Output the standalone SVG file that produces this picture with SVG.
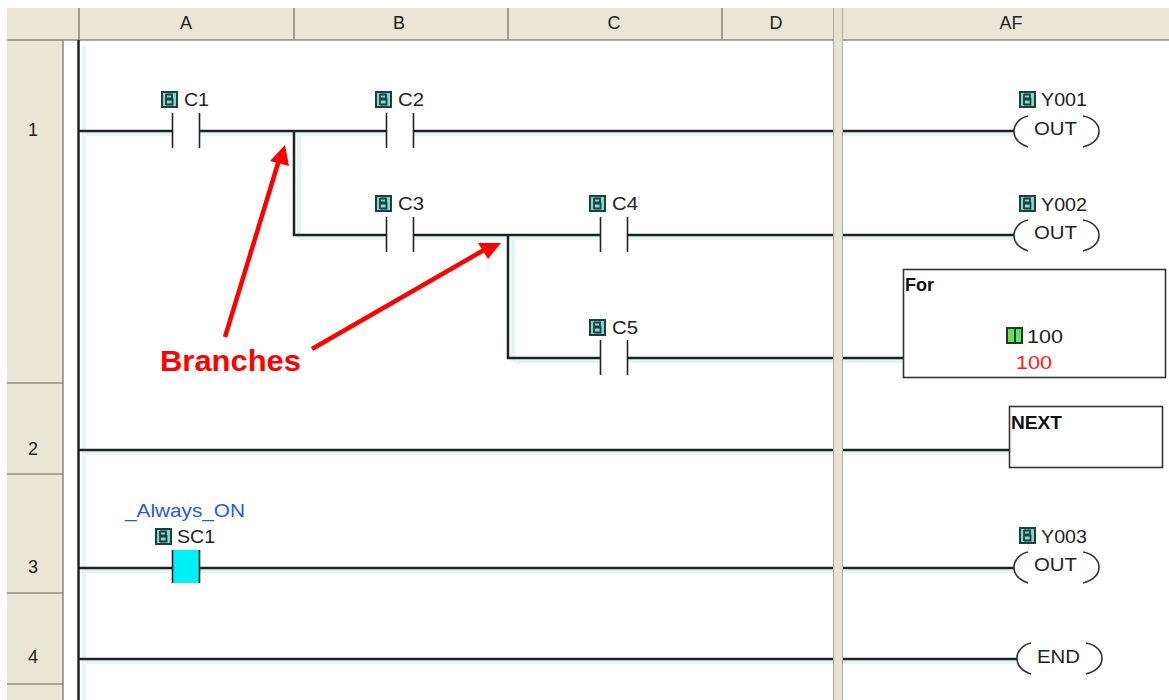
<svg xmlns="http://www.w3.org/2000/svg" width="1169" height="700" viewBox="0 0 1169 700">
<style>
text{font-family:"Liberation Sans",Arial,sans-serif;font-size:18px;fill:#222}
.hd{text-anchor:middle}
.sep{stroke:#8f8d80;stroke-width:1.600;fill:none}
.split{stroke:#b5b2a3;stroke-width:1.200;fill:none}
.w{stroke:#222;stroke-width:2.500;fill:none}
.sh{stroke:#e3f6f7;stroke-width:4;fill:none}
.c{stroke:#222;stroke-width:1.600;fill:none}
.box{fill:#fff;stroke:#333;stroke-width:1.600}
.b{font-weight:700;fill:#111}
.arc{stroke:#333;stroke-width:1.600;fill:none}
.ar{stroke:#ff0000;stroke-width:4.500;fill:none}
.arh{fill:#ff0000}
</style>
<defs>
<g id="bit"><rect x="0" y="0" width="17" height="17" fill="#1f3f3f"/><rect x="2" y="2" width="13" height="13" fill="#7fd8cc"/><path d="M5 3v11M5 3.500h6v4h-6M5 8.500h6.500v5h-6.500" stroke="#1f3f3f" stroke-width="1.800" fill="none"/></g>
<g id="contact"><path class="c" d="M0-18V17M27-18V17"/></g>
<g id="coil"><path class="arc" d="M14-15C5-13 0-6 0 0C0 7 5 13 14 16M69-15C80-13 85-6 85 0C85 7 80 13 69 16"/></g>
</defs>
<rect width="1169" height="700" fill="#fff"/>
<g id="grid">
<rect x="7" y="8" width="1162" height="32" fill="#e9e6d6"/>
<rect x="7" y="40" width="56" height="660" fill="#e9e6d6"/>
<path class="sep" d="M7 40H1169M79 8V40M294 8V40M508 8V40M722 8V40M63 40V700M7 383H63M7 474H63M7 593H63M7 684H63"/>
<rect x="833" y="8" width="10" height="692" fill="#e6e3d3"/>
<path class="split" d="M833.500 8V700M842.500 8V700"/>
<text class="hd" x="186" y="29">A</text><text class="hd" x="399" y="29">B</text><text class="hd" x="614" y="29">C</text><text class="hd" x="776" y="29">D</text><text class="hd" x="1011" y="29">AF</text>
<text class="hd" x="33" y="136">1</text><text class="hd" x="33" y="455">2</text><text class="hd" x="33" y="573">3</text><text class="hd" x="33" y="663">4</text>
</g>
<g id="connectors">
<path class="sh" d="M84 46V700M84 134H172M200 134H386M414 134H833M843 134H1014M299 134V238M299 238H386M414 238H600M628 238H833M843 238H1014M513 238V361M513 361H600M628 361H833M843 361H904M84 453H833M843 453H1010M84 571H172M200 571H833M843 571H1014M84 662H833M843 662H1017"/>
<path class="w" d="M78.500 40V700"/>
<path class="w" d="M79 131H172M200 131H386M414 131H833M843 131H1014M294 131V235H386M414 235H600M628 235H833M843 235H1014M508 235V358H600M628 358H833M843 358H904M79 450H833M843 450H1010M79 568H172M200 568H833M843 568H1014M79 659H833M843 659H1017"/>
</g>
<g id="c1"><use href="#bit" x="161" y="91"/><text x="184" y="106" textLength="25" lengthAdjust="spacingAndGlyphs">C1</text><use href="#contact" x="172.500" y="131"/></g>
<g id="c2"><use href="#bit" x="375" y="91"/><text x="398" y="106" textLength="26" lengthAdjust="spacingAndGlyphs">C2</text><use href="#contact" x="386.500" y="131"/></g>
<g id="c3"><use href="#bit" x="375" y="195"/><text x="398" y="210" textLength="26" lengthAdjust="spacingAndGlyphs">C3</text><use href="#contact" x="386.500" y="235"/></g>
<g id="c4"><use href="#bit" x="589" y="195"/><text x="612" y="210" textLength="26" lengthAdjust="spacingAndGlyphs">C4</text><use href="#contact" x="600.500" y="235"/></g>
<g id="c5"><use href="#bit" x="589" y="319"/><text x="612" y="334" textLength="26" lengthAdjust="spacingAndGlyphs">C5</text><use href="#contact" x="600.500" y="358"/></g>
<g id="sc1"><text x="125" y="517" style="fill:#2a55f0" textLength="120" lengthAdjust="spacingAndGlyphs">_Always_ON</text><use href="#bit" x="155" y="528"/><text x="177" y="543" textLength="38" lengthAdjust="spacingAndGlyphs">SC1</text><rect x="172.500" y="550" width="27" height="33" fill="#00f0f8"/><path class="c" d="M172.500 550V583M199.500 550V583"/></g>
<g id="y001"><use href="#bit" x="1019" y="91"/><text x="1041" y="106" textLength="46" lengthAdjust="spacingAndGlyphs">Y001</text><use href="#coil" x="1014" y="131"/><text x="1034" y="135" textLength="43" lengthAdjust="spacingAndGlyphs">OUT</text></g>
<g id="y002"><use href="#bit" x="1019" y="195"/><text x="1041" y="211" textLength="46" lengthAdjust="spacingAndGlyphs">Y002</text><use href="#coil" x="1014" y="235"/><text x="1034" y="239" textLength="43" lengthAdjust="spacingAndGlyphs">OUT</text></g>
<g id="y003"><use href="#bit" x="1019" y="527"/><text x="1041" y="543" textLength="46" lengthAdjust="spacingAndGlyphs">Y003</text><use href="#coil" x="1014" y="567"/><text x="1034" y="571" textLength="43" lengthAdjust="spacingAndGlyphs">OUT</text></g>
<g id="end"><use href="#coil" x="1017" y="658"/><text x="1037" y="663" textLength="43" lengthAdjust="spacingAndGlyphs">END</text></g>
<g id="for"><rect class="box" x="903.500" y="269.500" width="262" height="108"/><text class="b" x="905" y="291">For</text><rect x="1006" y="327" width="17" height="17" fill="#1d3d1d"/><path d="M1008 329h6v13h-6zM1016 329h5v13h-5z" fill="#62e35f"/><text x="1027" y="343" textLength="36" lengthAdjust="spacingAndGlyphs">100</text><text x="1016" y="369" style="fill:#ff1a1a" textLength="36" lengthAdjust="spacingAndGlyphs">100</text></g>
<g id="next"><rect class="box" x="1009.500" y="406.500" width="153" height="61"/><text class="b" x="1011" y="429" textLength="51" lengthAdjust="spacingAndGlyphs">NEXT</text></g>
<g id="branches"><path class="ar" d="M225 337L279 160M312 349L484 250"/><path class="arh" d="M285 145L270 161L289 166ZM478 243L501 243L488 259Z"/><text x="160" y="371" style="font-size:29px;font-weight:700;fill:#ff0000" textLength="141" lengthAdjust="spacingAndGlyphs">Branches</text></g>
</svg>
